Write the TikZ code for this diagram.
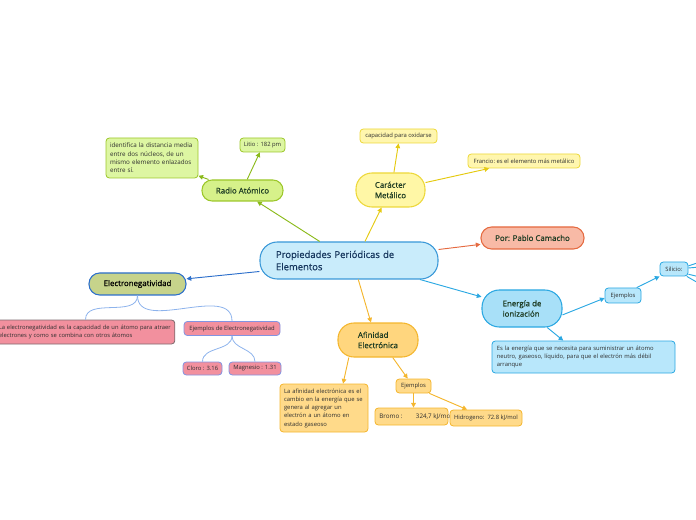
\documentclass[tikz,border=0pt]{standalone}
\usepackage{fontspec}
\setmainfont{Open Sans}
\newfontfamily\topicfont[FakeBold=0.7]{Open Sans}
\usetikzlibrary{arrows.meta,positioning,calc}

\definecolor{mainfill}{HTML}{C9ECFB}
\definecolor{mainline}{HTML}{3A98D8}
\definecolor{maintext}{HTML}{17375E}
\definecolor{toptext}{HTML}{1F3D24}
\definecolor{leaftext}{HTML}{2E2E2E}
\definecolor{grnfill}{HTML}{D6F18A}
\definecolor{grnsub}{HTML}{DDF6A2}
\definecolor{grnline}{HTML}{9CC72A}
\definecolor{grnlink}{HTML}{8BBA1A}
\definecolor{ylwfill}{HTML}{FFF7A6}
\definecolor{ylwsub}{HTML}{FFF6AE}
\definecolor{ylwline}{HTML}{EDD83A}
\definecolor{ylwlink}{HTML}{E5CA12}
\definecolor{salfill}{HTML}{F8BAA6}
\definecolor{salline}{HTML}{E56A40}
\definecolor{olvfill}{HTML}{C6D38B}
\definecolor{enline}{HTML}{2C6FCB}
\definecolor{pnkfill}{HTML}{F2909E}
\definecolor{pnkline}{HTML}{7E6A6E}
\definecolor{pnkedge}{HTML}{8294E2}
\definecolor{brlink}{HTML}{8DB3EC}
\definecolor{bluefill}{HTML}{A8E0F8}
\definecolor{bluesub}{HTML}{B8E7FB}
\definecolor{blueline}{HTML}{2BA8E2}
\definecolor{orgfill}{HTML}{FFD67E}
\definecolor{orgsub}{HTML}{FFDA8A}
\definecolor{orgline}{HTML}{F4B62E}

\begin{document}
\begin{tikzpicture}[x=0.75pt,y=-0.75pt,
    topic/.style={draw, line width=0.8pt, inner sep=0pt, text=toptext,
      font=\topicfont\fontsize{5.9}{7.8}\selectfont},
    leaf/.style={draw, line width=0.6pt, rounded corners=2.5pt, inner sep=0pt,
      text=leaftext, font=\fontsize{4.4}{6.2}\selectfont},
    link/.style={line width=0.7pt, -{Triangle[length=3.5pt,width=3.5pt]}},
    branch/.style={line width=0.6pt, brlink}]
  \useasboundingbox (0,0) rectangle (696,520);

  % central topic
  \node[topic, fill=mainfill, draw=mainline, rounded corners=13pt, text=maintext,
    minimum width=133.5pt, minimum height=27.75pt, text width=109.5pt, align=left,
    font=\topicfont\fontsize{7.1}{9.2}\selectfont] (main) at (349,260.5)
    {Propiedades Periódicas de\\Elementos};

  % Radio atomico
  \node[topic, fill=grnfill, draw=grnline, rounded corners=7.5pt,
    minimum width=60.75pt, minimum height=15.75pt] (radio) at (242.5,190.5) {Radio Atómico};
  \node[leaf, fill=grnsub, draw=grnline, minimum width=69pt, minimum height=30pt,
    text width=63pt, align=left, font=\fontsize{4.7}{6.2}\selectfont] (distancia) at (152,158)
    {identifica la distancia media\\entre dos núcleos, de un\\mismo elemento enlazados\\entre sí.};
  \node[leaf, fill=grnsub, draw=grnline, minimum width=33.75pt, minimum height=10.5pt]
    (litio) at (262.5,145) {Litio : 182 pm};

  % Caracter metalico
  \node[topic, fill=ylwfill, draw=ylwline, rounded corners=12pt, align=left,
    minimum width=51.75pt, minimum height=25.5pt] (caracter) at (390.5,190)
    {Carácter\\Metálico};
  \node[leaf, fill=ylwsub, draw=ylwline, minimum width=57.75pt, minimum height=10.5pt]
    (oxidarse) at (398.5,136) {capacidad para oxidarse};
  \node[leaf, fill=ylwsub, draw=ylwline, minimum width=84pt, minimum height=10.5pt]
    (francio) at (524,161) {Francio:\ es el elemento más metálico};

  % autor
  \node[topic, fill=salfill, draw=salline, rounded corners=8pt,
    minimum width=77.25pt, minimum height=16.5pt] (autor) at (532.5,238) {Por: Pablo Camacho};

  % Electronegatividad
  \node[topic, fill=olvfill, draw=enline, rounded corners=8pt, text=black,
    minimum width=72.75pt, minimum height=16.5pt] (electro) at (137.5,284) {Electronegatividad};
  \node[leaf, fill=pnkfill, draw=pnkline, minimum width=134pt, minimum height=18pt,
    text width=130pt, align=left, font=\fontsize{4.35}{6.2}\selectfont] (electrodef) at (85.5,332)
    {La electronegatividad es la capacidad de un átomo para atraer\\electrones y como se combina con otros átomos};
  \node[leaf, fill=pnkfill, draw=pnkedge, minimum width=72pt, minimum height=10.5pt]
    (electroej) at (232,328.5) {Ejemplos de Electronegatividad};
  \node[leaf, fill=pnkfill, draw=pnkedge, minimum width=29.25pt, minimum height=9.75pt]
    (cloro) at (202.5,368.5) {Cloro : 3.16};
  \node[leaf, fill=pnkfill, draw=pnkedge, minimum width=39pt, minimum height=9.75pt]
    (magnesio) at (255,368.5) {Magnesio : 1.31};

  % Energia de ionizacion
  \node[topic, fill=bluefill, draw=blueline, rounded corners=13pt, align=left,
    minimum width=60pt, minimum height=27.75pt] (energia) at (522,308.5)
    {Energía de\\ionización};
  \node[leaf, fill=bluesub, draw=blueline, minimum width=137.25pt, minimum height=24pt,
    text width=130pt, align=left] (energiadef) at (583.5,357)
    {Es la energía que se necesita para suministrar un átomo\\neutro, gaseoso, líquido, para que el electrón más débil\\arranque};
  \node[leaf, fill=bluesub, draw=blueline, minimum width=27pt, minimum height=11.25pt]
    (energiaej) at (623,295.5) {Ejemplos};
  \node[leaf, fill=bluesub, draw=blueline, minimum width=21pt, minimum height=10.5pt]
    (silicio) at (674,269) {Silicio:};

  % Afinidad electronica
  \node[topic, fill=orgfill, draw=orgline, rounded corners=12pt, align=left,
    minimum width=60pt, minimum height=25.5pt] (afinidad) at (378,340)
    {Afinidad\\Electrónica};
  \node[leaf, fill=orgsub, draw=orgline, minimum width=66pt, minimum height=36pt,
    text width=60pt, align=left] (afinidaddef) at (324,408)
    {La afinidad electrónica es el\\cambio en la energía que se\\genera al agregar un\\electrón a un átomo en\\estado gaseoso};
  \node[leaf, fill=orgsub, draw=orgline, minimum width=26.25pt, minimum height=10.5pt]
    (afinidadej) at (413.5,386) {Ejemplos};
  \node[leaf, fill=orgsub, draw=orgline, minimum width=54.75pt, minimum height=12.75pt]
    (bromo) at (411.5,416.5) {};
  \node[leaf, draw=none, fill=none, anchor=west, font=\fontsize{4.7}{6.2}\selectfont]
    (bromotxt) at (379,416.5) {Bromo :\hspace{10pt}324,7 kJ/mol};
  \node[leaf, fill=orgsub, draw=orgline, minimum width=54pt, minimum height=12pt]
    (hidrogeno) at (486,418) {Hidrogeno:\ \ 72.8 kJ/mol};

  % connectors
  \draw[link, grnlink] (main.147) -- (radio.-37);
  \draw[link, grnlink] (radio.162) -- (distancia.-21);
  \draw[link, grnlink] (radio.67) -- (litio.-110);
  \draw[link, ylwlink] (main.50) -- (caracter.-117);
  \draw[link, ylwlink] (caracter.79) -- (oxidarse.south);
  \draw[link, ylwlink] (caracter.12) -- (francio.192);
  \draw[link, salline] (main.7) -- (autor.187);
  \draw[link, enline] (main.187) -- (electro.6);
  \draw[link, blueline] (main.-15) -- (energia.164);
  \draw[link, blueline] (energia.-9) -- (energiaej.188);
  \draw[link, blueline] (energiaej.30) -- (silicio.207);
  \draw[link, blueline] (energia.-37) -- (energiadef.141);
  \draw[link, orgline] (main.-64) -- (afinidad.112);
  \draw[link, orgline] (afinidad.211) -- (afinidaddef.52);
  \draw[link, orgline] (afinidad.-50) -- (afinidadej.128);
  \draw[link, orgline] (afinidadej.south) -- (afinidadej.south |- bromo.north);
  \draw[link, orgline] (afinidadej.-25) -- (hidrogeno.156);

  % tree under Electronegatividad
  \draw[branch] (electro.south) to[out=-90,in=90] (electrodef.north);
  \draw[branch] (electro.south) to[out=-90,in=90] (electroej.north);
  \draw[branch] (electroej.south) to[out=-90,in=90] (cloro.north);
  \draw[branch] (electroej.south) to[out=-90,in=90] (magnesio.north);

  % branches of Silicio leaving the page
  \coordinate (sil1) at (700,262);
  \coordinate (sil2) at (700,267);
  \coordinate (sil3) at (700,277);
  \coordinate (sil4) at (700,284);
  \foreach \s/\a in {sil1/12, sil2/4, sil3/-20, sil4/-30}
    \draw[line width=0.7pt, blueline] (silicio.\a) -- (\s);
\end{tikzpicture}
\end{document}
